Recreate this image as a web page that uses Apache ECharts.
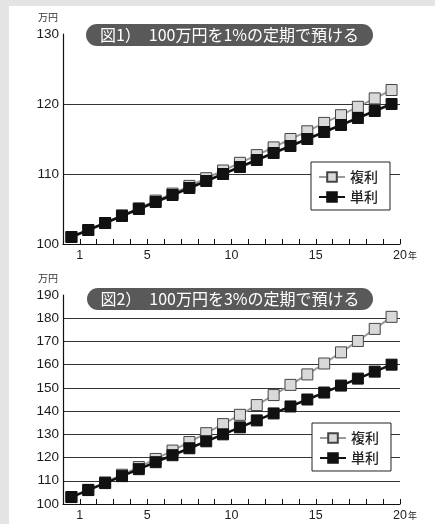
<!DOCTYPE html>
<html><head><meta charset="utf-8">
<script src="https://cdn.jsdelivr.net/npm/echarts@6/dist/echarts.min.js"></script>
<style>
html,body{margin:0;padding:0;}
#c{width:435px;height:524px;background:linear-gradient(#e4e4e4,#e4e4e4) 0 0/435px 6px no-repeat,linear-gradient(#e4e4e4,#e4e4e4) 0 0/9px 524px no-repeat,#fff;}
</style></head>
<body><div id="c"></div>
<script>
// Data
const years = ['1','2','3','4','5','6','7','8','9','10','11','12','13','14','15','16','17','18','19','20'];
const xTickLabels = [1, 5, 10, 15, 20];
const titles = ['図1）　100万円を1%の定期で預ける', '図2）　100万円を3%の定期で預ける'];
const seriesNames = ['複利', '単利'];
const compound1 = [101.0,102.0,103.0,104.1,105.1,106.2,107.2,108.3,109.4,110.5,111.6,112.7,113.8,115.0,116.1,117.3,118.4,119.6,120.8,122.0];
const simple1 = [101,102,103,104,105,106,107,108,109,110,111,112,113,114,115,116,117,118,119,120];
const compound2 = [103.0,106.1,109.3,112.6,115.9,119.4,123.0,126.7,130.5,134.4,138.4,142.6,146.9,151.3,155.8,160.5,165.3,170.2,175.4,180.6];
const simple2 = [103,106,109,112,115,118,121,124,127,130,133,136,139,142,145,148,151,154,157,160];
const yRange1 = {min:100, max:130, interval:10};
const yRange2 = {min:100, max:190, interval:10};
const unitLabel = '万円';

const chart = echarts.init(document.getElementById('c'), null, {renderer:'canvas'});
const FONT = 'Liberation Sans, Arial, sans-serif';
const JP = 'Noto Sans CJK JP, sans-serif';

function catAxis(g){
  return {type:'category', gridIndex:g, data:years, boundaryGap:true,
    axisLine:{show:true, lineStyle:{color:'#111', width:1.2}},
    axisTick:{show:false}, axisLabel:{show:false}, splitLine:{show:false}};
}
function valXAxis(g){
  return {type:'value', gridIndex:g, min:0, max:20, interval:1, position:'bottom',
    axisLine:{show:false},
    axisTick:{show:true, inside:true, length:5, lineStyle:{color:'#111', width:1}},
    splitLine:{show:false},
    axisLabel:{show:true, margin:5, color:'#222', fontSize:12.5, fontFamily:FONT,
      formatter:function(v){
        if (v === 20) return '{p|}{a|20}{b|年}';
        return xTickLabels.indexOf(v) >= 0 ? String(v) : '';
      },
      rich:{p:{width:10}, a:{fontSize:12.5, fontFamily:FONT, color:'#222'}, b:{fontSize:9, fontFamily:JP, color:'#222', padding:[0,0,0,1]}}
    }};
}
function yAxis(g, r){
  return {type:'value', gridIndex:g, min:r.min, max:r.max, interval:r.interval,
    axisLine:{show:true, lineStyle:{color:'#111', width:1.2}},
    axisTick:{show:false},
    axisLabel:{color:'#1a1a1a', fontSize:13.5, fontFamily:FONT, margin:4, padding:[0,0,6,0]},
    splitLine:{show:true, showMinLine:false, showMaxLine:false, lineStyle:{color:'#333', width:1}}};
}
function lineSeries(name, data, g){
  const isComp = name === '複利';
  return {type:'line', name:name, xAxisIndex:g*2, yAxisIndex:g, data:data,
    symbol:'rect', symbolSize:11, showSymbol:true, animation:false,
    z: isComp ? 2 : 3,
    lineStyle: isComp ? {color:'#9a9a9a', width:2} : {color:'#111', width:2.5},
    itemStyle: isComp ? {color:'#d9d9d9', borderColor:'#444', borderWidth:1} : {color:'#111', borderColor:'#111', borderWidth:1}};
}
function legend(left, top){
  return {orient:'vertical', left:left, top:top, data:seriesNames,
    backgroundColor:'#fff', borderColor:'#222', borderWidth:1, padding:[8,12,6,7],
    itemGap:6, itemWidth:26, itemHeight:12, selectedMode:false,
    textStyle:{fontSize:14, fontWeight:500, fontFamily:JP, color:'#222'}};
}
function pill(x, y, w, h, text){
  return {type:'group', left:x, top:y, children:[
    {type:'rect', shape:{x:0, y:0, width:w, height:h, r:h/2}, style:{fill:'#595959'}},
    {type:'text', x:w/2, y:h/2, style:{text:text, fill:'#fff', fontSize:16, fontFamily:JP, align:'center', verticalAlign:'middle'}}
  ]};
}

chart.setOption({
  animation:false,
  backgroundColor:'transparent',
  grid:[
    {left:63, top:34, width:337, height:210},
    {left:63, top:295, width:337, height:209}
  ],
  xAxis:[catAxis(0), valXAxis(0), catAxis(1), valXAxis(1)],
  yAxis:[yAxis(0, yRange1), yAxis(1, yRange2)],
  legend:[legend(311, 162), legend(312, 423)],
  series:[
    lineSeries('複利', compound1, 0), lineSeries('単利', simple1, 0),
    lineSeries('複利', compound2, 1), lineSeries('単利', simple2, 1)
  ],
  graphic:[
    pill(86, 24, 287, 22, titles[0]),
    pill(87, 288, 286, 22, titles[1]),
    {type:'text', left:38, top:12, style:{text:unitLabel, fontSize:10, fontFamily:JP, fill:'#333'}},
    {type:'text', left:38, top:273, style:{text:unitLabel, fontSize:10, fontFamily:JP, fill:'#333'}}
  ]
});
</script></body></html>
